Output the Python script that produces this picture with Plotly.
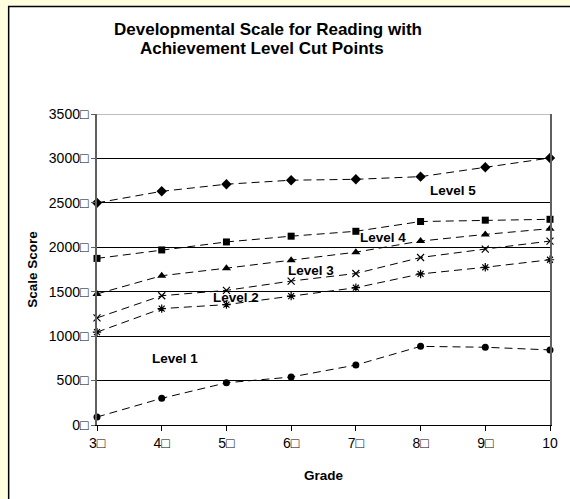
import plotly.graph_objects as go

grades = [3, 4, 5, 6, 7, 8, 9, 10]
level5_cut = [2500, 2630, 2710, 2755, 2765, 2795, 2900, 3005]
level4_cut = [1875, 1970, 2060, 2125, 2180, 2290, 2305, 2315]
level3_cut = [1475, 1680, 1765, 1855, 1945, 2070, 2145, 2210]
level2_upper = [1205, 1455, 1515, 1620, 1705, 1885, 1980, 2070]
level2_lower = [1045, 1310, 1355, 1450, 1545, 1700, 1775, 1860]
level1_low = [90, 300, 475, 540, 675, 885, 875, 845]

y_ticks = [0, 500, 1000, 1500, 2000, 2500, 3000, 3500]
y_ticktext = ["0\u25a1", "500\u25a1", "1000\u25a1", "1500\u25a1", "2000\u25a1", "2500\u25a1", "3000\u25a1", "3500\u25a1"]
x_ticktext = ["3\u25a1", "4\u25a1", "5\u25a1", "6\u25a1", "7\u25a1", "8\u25a1", "9\u25a1", "10"]

title_lines = ["Developmental Scale for Reading with", "Achievement Level Cut Points"]

level_labels = ["Level 1", "Level 2", "Level 3", "Level 4", "Level 5"]
label_x = [4.2, 5.15, 6.3, 7.42, 8.5]
label_y = [745, 1440, 1735, 2115, 2635]

series = [
    (level5_cut, "diamond", 8, None),
    (level4_cut, "square", 7, None),
    (level3_cut, "triangle-up", 8, None),
    (level2_upper, "x-thin-open", 7, 1.2),
    (level2_lower, "asterisk-open", 7, 1.2),
    (level1_low, "circle", 7, None),
]

fig = go.Figure()
for vals, sym, size, lw in series:
    marker = dict(symbol=sym, size=size, color="black")
    if lw:
        marker["line"] = dict(color="black", width=lw)
    fig.add_trace(go.Scatter(
        x=grades, y=vals, mode="lines+markers",
        line=dict(color="black", width=1, dash="8px,5px"),
        marker=marker, cliponaxis=False, showlegend=False,
    ))

for t, lx, ly in zip(level_labels, label_x, label_y):
    fig.add_annotation(x=lx, y=ly, text="<b>" + t + "</b>", showarrow=False,
                       font=dict(family="Liberation Sans", size=13.5, color="black"))

# chart title, two lines
for t, tx, ty in zip(title_lines, [0.377, 0.364], [1.271, 1.210]):
    fig.add_annotation(xref="paper", yref="paper", x=tx, y=ty, text="<b>" + t + "</b>",
                       showarrow=False, xanchor="center", yanchor="middle",
                       font=dict(family="Liberation Sans", size=17, color="black"))

# page frame: white panel with black border on yellow page
fig.add_shape(type="rect", xref="paper", yref="paper",
              x0=-0.195, x1=1.2, y0=-0.4, y1=1.3457,
              fillcolor="white", line=dict(color="black", width=1.5), layer="below")
# top plot border
fig.add_shape(type="line", xref="paper", yref="y", x0=0, x1=1, y0=3500, y1=3500,
              line=dict(color="#808080", width=1))

fig.update_layout(
    width=570, height=499,
    margin=dict(l=97, r=14, t=114, b=74),
    paper_bgcolor="#FFFFE0",
    plot_bgcolor="white",
    font=dict(family="Liberation Sans", size=14, color="black"),
    xaxis=dict(range=[3, 10], tickvals=grades, ticktext=x_ticktext,
               showgrid=False, zeroline=False,
               showline=True, linecolor="black", linewidth=1,
               ticks="outside", ticklen=5, tickcolor="black",
               title=dict(text="<b>Grade</b>", font=dict(size=13.5), standoff=20)),
    yaxis=dict(range=[0, 3500], tickvals=y_ticks, ticktext=y_ticktext,
               showgrid=True, gridcolor="black", gridwidth=1, zeroline=False,
               showline=True, linecolor="#606060", linewidth=1.5, mirror=True,
               ticks="outside", ticklen=4, tickcolor="#606060",
               title=dict(text="<b>Scale Score</b>", font=dict(size=13.5), standoff=8)),
)

fig.write_html("out.html", config={"displayModeBar": False},
               post_script="document.body.style.margin='0';document.body.style.overflow='hidden';")
